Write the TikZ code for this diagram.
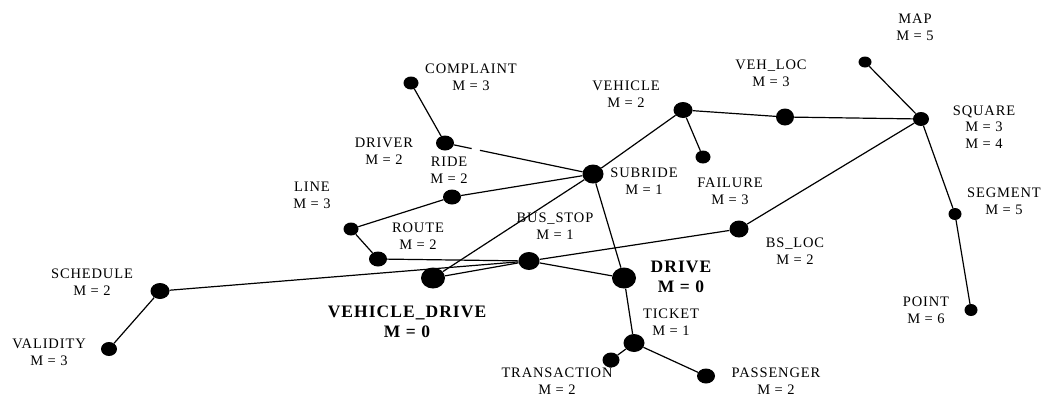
\documentclass[tikz,border=0pt]{standalone}
\usepackage{fontspec}
\setmainfont{Liberation Serif}
\newfontfamily\labelfamily[LetterSpace=6]{Liberation Serif}
\newcommand\lblfont{\labelfamily\fontsize{14.5}{17}\selectfont}
\newcommand\sqfont{\labelfamily\fontsize{14.5}{16.4}\selectfont}
\newcommand\boldlblfont{\labelfamily\bfseries\fontsize{17.5}{20}\selectfont}
\usetikzlibrary{shapes.geometric,calc}
\tikzset{
  dot/.style={ellipse, fill=black, draw=none, inner sep=0pt},
  lbl/.style={align=center, font=\lblfont, inner sep=0pt, text=black},
  sqlbl/.style={align=center, font=\sqfont, inner sep=0pt, text=black},
  blbl/.style={align=center, font=\boldlblfont, inner sep=0pt},
  link/.style={line width=1.2pt, black}
}
\begin{document}
\begin{tikzpicture}[x=1pt,y=-1pt]
\useasboundingbox (0,0) rectangle (1043,397);
% dots
\node[dot, minimum width=15pt, minimum height=13pt] (complaint) at (411,83) {};
\node[dot, minimum width=18pt, minimum height=15pt] (driver) at (445,143) {};
\node[dot, minimum width=21pt, minimum height=19pt] (subride) at (593,174) {};
\node[dot, minimum width=19pt, minimum height=16pt] (vehicle) at (683,110) {};
\node[dot, minimum width=18pt, minimum height=15pt] (ride) at (452,197) {};
\node[dot, minimum width=13pt, minimum height=11pt] (map) at (865,62) {};
\node[dot, minimum width=18pt, minimum height=17pt] (vehloc) at (785,117) {};
\node[dot, minimum width=16pt, minimum height=14pt] (square) at (921,119) {};
\node[dot, minimum width=15pt, minimum height=13pt] (failure) at (703,157) {};
\node[dot, minimum width=15pt, minimum height=13pt] (linedot) at (351,229) {};
\node[dot, minimum width=18pt, minimum height=15pt] (route) at (378,259) {};
\node[dot, minimum width=21pt, minimum height=18pt] (busstop) at (529,261) {};
\node[dot, minimum width=24pt, minimum height=21pt] (vdrive) at (433,278) {};
\node[dot, minimum width=24pt, minimum height=21pt] (drive) at (624,278) {};
\node[dot, minimum width=21pt, minimum height=18pt] (ticket) at (634,343) {};
\node[dot, minimum width=17pt, minimum height=15pt] (transaction) at (611,360) {};
\node[dot, minimum width=19pt, minimum height=17pt] (bsloc) at (739,229) {};
\node[dot, minimum width=13pt, minimum height=12pt] (segment) at (955,214) {};
\node[dot, minimum width=13pt, minimum height=12pt] (point) at (971,310) {};
\node[dot, minimum width=18pt, minimum height=15pt] (passenger) at (706,376) {};
\node[dot, minimum width=19pt, minimum height=16pt] (schedule) at (160,291) {};
\node[dot, minimum width=16pt, minimum height=14pt] (validity) at (109,349) {};
% connectors
\draw[link] (complaint) -- (driver);
\draw[link] (driver) -- ($(driver)!0.18!(subride)$);
\draw[link] ($(driver)!0.236!(subride)$) -- (subride);
\draw[link] (ride) -- (subride);
\draw[link] (ride) -- (linedot);
\draw[link] (linedot) -- (route);
\draw[link] (route) -- (busstop);
\draw[link] (schedule) -- (busstop);
\draw[link] (vdrive) -- (busstop);
\draw[link] (vdrive) -- (subride);
\draw[link] (busstop) -- (drive);
\draw[link] (busstop) -- (bsloc);
\draw[link] (bsloc) -- (square);
\draw[link] (subride) -- (drive);
\draw[link] (drive) -- (ticket);
\draw[link] (ticket) -- (transaction);
\draw[link] (ticket) -- (passenger);
\draw[link] (subride) -- (vehicle);
\draw[link] (vehicle) -- (failure);
\draw[link] (vehicle) -- (vehloc);
\draw[link] (vehloc) -- (square);
\draw[link] (map) -- (square);
\draw[link] (square) -- (segment);
\draw[link] (segment) -- (point);
\draw[link] (schedule) -- (validity);
% labels
\node[lbl] (l-complaint) at (471,77) {COMPLAINT\\M = 3};
\node[lbl] (l-vehicle) at (626,94.5) {VEHICLE\\M = 2};
\node[lbl] (l-driver) at (384,151) {DRIVER\\M = 2};
\node[lbl] (l-ride) at (449,170.5) {RIDE\\M = 2};
\node[lbl] (l-subride) at (644,181) {SUBRIDE\\M = 1};
\node[lbl] (l-map) at (915,27) {MAP\\M = 5};
\node[lbl] (l-vehloc) at (771,73) {VEH\_LOC\\M = 3};
\node[sqlbl] (l-square) at (984,127) {SQUARE\\M = 3\\M = 4};
\node[lbl] (l-failure) at (730,191) {FAILURE\\M = 3};
\node[lbl] (l-segment) at (1004,201) {SEGMENT\\M = 5};
\node[lbl] (l-bsloc) at (795,251) {BS\_LOC\\M = 2};
\node[lbl] (l-point) at (926,310) {POINT\\M = 6};
\node[lbl] (l-passenger) at (776,381.5) {PASSENGER\\M = 2};
\node[lbl] (l-transaction) at (557,381.5) {TRANSACTION\\M = 2};
\node[lbl] (l-ticket) at (671,322.5) {TICKET\\M = 1};
\node[lbl] (l-busstop) at (555,226) {BUS\_STOP\\M = 1};
\node[lbl] (l-route) at (418,236.5) {ROUTE\\M = 2};
\node[lbl] (l-line) at (312,195) {LINE\\M = 3};
\node[lbl] (l-schedule) at (92,282) {SCHEDULE\\M = 2};
\node[lbl] (l-validity) at (49,352.5) {VALIDITY\\M = 3};
\node[blbl] (l-vdrive) at (407,322) {VEHICLE\_DRIVE\\M = 0};
\node[blbl] (l-drive) at (681,277) {DRIVE\\M = 0};
\end{tikzpicture}
\end{document}
